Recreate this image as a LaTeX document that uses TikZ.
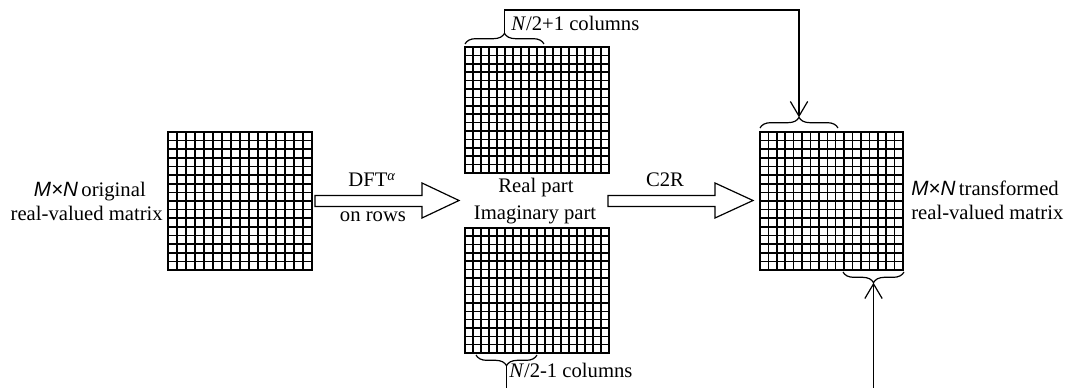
\documentclass[tikz,border=0pt]{standalone}
\usepackage{fontspec}
\setmainfont{Liberation Serif}
\setsansfont{Liberation Sans}
\usetikzlibrary{arrows.meta, decorations.pathreplacing}

% #1,#2 lower left corner, #3 columns, #4 rows, #5 cell width, #6 cell height
\newcommand{\cellgrid}[6]{
  \foreach \i in {0,...,#3}
    \draw[matgrid] ({#1+\i*#5},#2) -- ++(0,{#4*#6});
  \foreach \j in {0,...,#4}
    \draw[matgrid] (#1,{#2+\j*#6}) -- ++({#3*#5},0);
}

\begin{document}
\begin{tikzpicture}[x=0.75pt, y=0.75pt,
  matgrid/.style={line width=1.15pt, line cap=rect},
  curly/.style={line width=0.9pt, decorate, decoration={brace, amplitude=8pt}},
  link/.style={line width=0.9pt},
  fat/.style={line width=0.9pt, line join=miter},
  lbl/.style={inner sep=0pt, font=\fontsize{15.5}{18}\selectfont},
  barb/.style={-{Straight Barb[length=11pt, width=13pt]}}]
\clip (0,0) rectangle (1066,388);

% matrices
\cellgrid{168}{118}{16}{16}{9}{8.625}
\cellgrid{465}{215}{18}{15}{8}{8.4}
\cellgrid{465}{35}{18}{15}{8}{8.34}
\cellgrid{760}{118}{17}{16}{8.41}{8.625}

% big arrows
\draw[fat] (315,181.5) -- (422,181.5) -- (422,170) -- (459,187.5) -- (422,205) -- (422,192.5) -- (315,192.5) -- cycle;
\draw[fat] (608,181.5) -- (715,181.5) -- (715,170) -- (753,187.5) -- (715,205) -- (715,192.5) -- (608,192.5) -- cycle;

% labels
\node[lbl, anchor=base east] (inlabel) at (146,191) {{\sffamily\itshape M×N\/}\,original};
\node[lbl, anchor=base east] (inlabel2) at (163,167) {real-valued matrix};
\node[lbl, anchor=base] (dft) at (372,201) {DFT\textsuperscript{\itshape α}};
\node[lbl, anchor=base] (rows) at (373,166) {on rows};
\node[lbl, anchor=base] (realpart) at (536,195) {Real part};
\node[lbl, anchor=base] (imagpart) at (535,168) {Imaginary part};
\node[lbl, anchor=base] (ctor) at (665,201) {C2R};
\node[lbl, anchor=base west] (outlabel) at (911,192) {{\sffamily\itshape M×N\/}\,transformed};
\node[lbl, anchor=base west] (outlabel2) at (911,168) {real-valued matrix};
\node[lbl, anchor=base west] (upcols) at (511,357) {\textit{N}/2+1 columns};
\node[lbl, anchor=base west] (lowcols) at (509,10) {\textit{N}/2-1 columns};

% braces
\draw[curly] (465,344) -- (544,344);
\draw[curly] (760,260) -- (838,260);
\draw[curly] (537,33) -- (476,33);
\draw[curly] (904,116) -- (843,116);
\coordinate (realtip) at (504.5,354.7);
\coordinate (outtop) at (799,270.7);
\coordinate (imagtip) at (506.5,22.3);
\coordinate (outbot) at (873.5,105.3);
\coordinate (railtop) at (0,378);
\coordinate (railbot) at (0,-4);

% half-spectrum routing
\draw[link, barb] (realtip) -- (realtip |- railtop) -| (outtop);
\draw[link, barb] (imagtip) -- (imagtip |- railbot) -| (outbot);

\end{tikzpicture}
\end{document}
